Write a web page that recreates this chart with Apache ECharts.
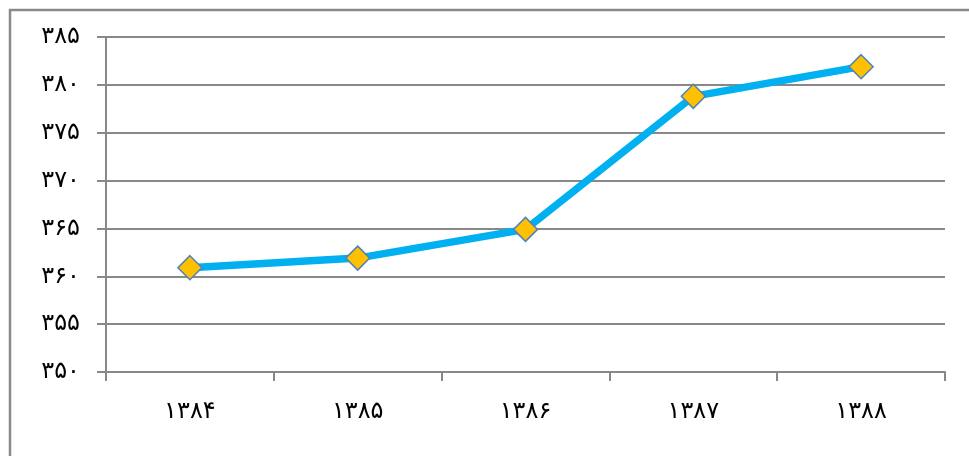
<!DOCTYPE html>
<html><head><meta charset="utf-8">
<script src="https://cdn.jsdelivr.net/npm/echarts@6/dist/echarts.min.js"></script>
<style>html,body{margin:0;padding:0;background:#fff}#c{width:969px;height:456px}</style>
</head><body><div id="c"></div>
<script>
var categories = ['۱۳۸۴', '۱۳۸۵', '۱۳۸۶', '۱۳۸۷', '۱۳۸۸'];
var values = [360.9, 361.9, 364.9, 378.8, 381.9];
var yMin = 350, yMax = 385, yStep = 5;
var persianDigits = ['۰','۱','۲','۳','۴','۵','۶','۷','۸','۹'];
function toPersian(n){ return String(n).replace(/[0-9]/g, function(d){ return persianDigits[+d]; }); }

var chart = echarts.init(document.getElementById('c'), null, {renderer:'canvas'});
chart.setOption({
  animation: false,
  backgroundColor: '#fff',
  graphic: [{
    type: 'rect', silent: true,
    shape: {x: 10, y: 10, width: 980, height: 470},
    style: {fill: 'none', stroke: '#8a8a8a', lineWidth: 2.5}
  }],
  grid: {left: 106, right: 24, top: 37, bottom: 84},
  xAxis: {
    type: 'category', data: categories, boundaryGap: true,
    axisLine: {lineStyle: {color: '#888', width: 2}},
    axisTick: {show: true, length: 9, lineStyle: {color: '#888', width: 2}},
    axisLabel: {margin: 28, fontSize: 24, color: '#000', fontFamily: 'DejaVu Sans'}
  },
  yAxis: {
    type: 'value', min: yMin, max: yMax, interval: yStep,
    axisLine: {show: true, lineStyle: {color: '#888', width: 2}},
    axisTick: {show: true, length: 9, lineStyle: {color: '#888', width: 2}},
    splitLine: {lineStyle: {color: '#888', width: 2}},
    axisLabel: {margin: 26, fontSize: 24, color: '#000', fontFamily: 'DejaVu Sans', formatter: function(v){ return toPersian(v); }}
  },
  series: [{
    type: 'line', data: values,
    lineStyle: {color: '#00B0F0', width: 7.5},
    symbol: 'diamond', symbolSize: 24,
    itemStyle: {color: '#FFC000', borderColor: '#4F81BD', borderWidth: 1.5}
  }]
});
</script></body></html>
